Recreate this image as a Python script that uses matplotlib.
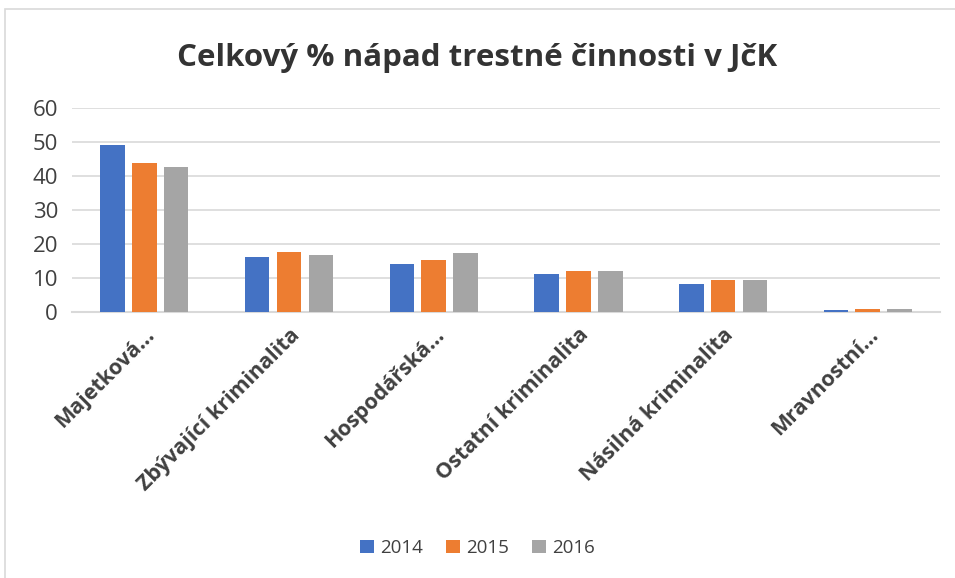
import matplotlib
matplotlib.use("Agg")
import matplotlib.pyplot as plt
from matplotlib.patches import Rectangle
import numpy as np

# data
kategorie = ["Majetková…", "Zbývající kriminalita", "Hospodářská…",
             "Ostatní kriminalita", "Násilná kriminalita", "Mravnostní…"]
roky = ["2014", "2015", "2016"]
h2014 = [49.2, 16.2, 14.2, 11.3, 8.3, 0.6]
h2015 = [43.8, 17.8, 15.4, 12.2, 9.5, 0.9]
h2016 = [42.8, 16.9, 17.4, 12.1, 9.5, 0.9]
barvy = ["#4472c4", "#ed7d31", "#a5a5a5"]

plt.rcParams['font.family'] = ['Open Sans', 'DejaVu Sans']
txt = "#404040"

fig = plt.figure(figsize=(9.55, 5.78), dpi=100)
ax = fig.add_axes([0.0754, 0.46, 0.909, 0.353])

x = np.arange(len(kategorie))
w = 0.17
krok = 0.22
for i, (vals, rok) in enumerate(zip([h2014, h2015, h2016], roky)):
    ax.bar(x + (i - 1) * krok, vals, w, color=barvy[i], label=rok, zorder=3)

ax.set_xlim(-0.5, len(kategorie) - 0.5)
ax.set_ylim(0, 60)
ax.set_yticks(range(0, 61, 10))
ax.grid(axis="y", color="#d9d9d9", linewidth=1.2, zorder=0)
for s in ["left", "right", "top"]:
    ax.spines[s].set_visible(False)
ax.spines["bottom"].set_color("#d9d9d9")
ax.spines["bottom"].set_linewidth(1.5)
ax.tick_params(axis="both", length=0, colors=txt, labelsize=16)
ax.tick_params(axis="y", pad=10)
ax.tick_params(axis="x", pad=9)
ax.set_xticks(x)
ax.set_xticklabels(kategorie, rotation=45, ha="right", rotation_mode="anchor",
                   fontweight="bold", fontsize=15.5, color=txt)

fig.suptitle("Celkový % nápad trestné činnosti v JčK", x=0.5, y=0.926,
             fontsize=22.5, fontweight="bold", color="#333333")

fig.legend(loc="center", bbox_to_anchor=(0.5, 0.052), ncol=3, frameon=False,
           fontsize=13.5, handlelength=0.75, handleheight=0.75, columnspacing=1.2,
           handletextpad=0.35, labelcolor=txt)

# chart border
fig.patches.append(Rectangle((0.005, -0.01), 1.0, 0.995, transform=fig.transFigure,
                             fill=False, edgecolor="#d9d9d9", linewidth=1.2))

fig.savefig("out.png", dpi=100)
